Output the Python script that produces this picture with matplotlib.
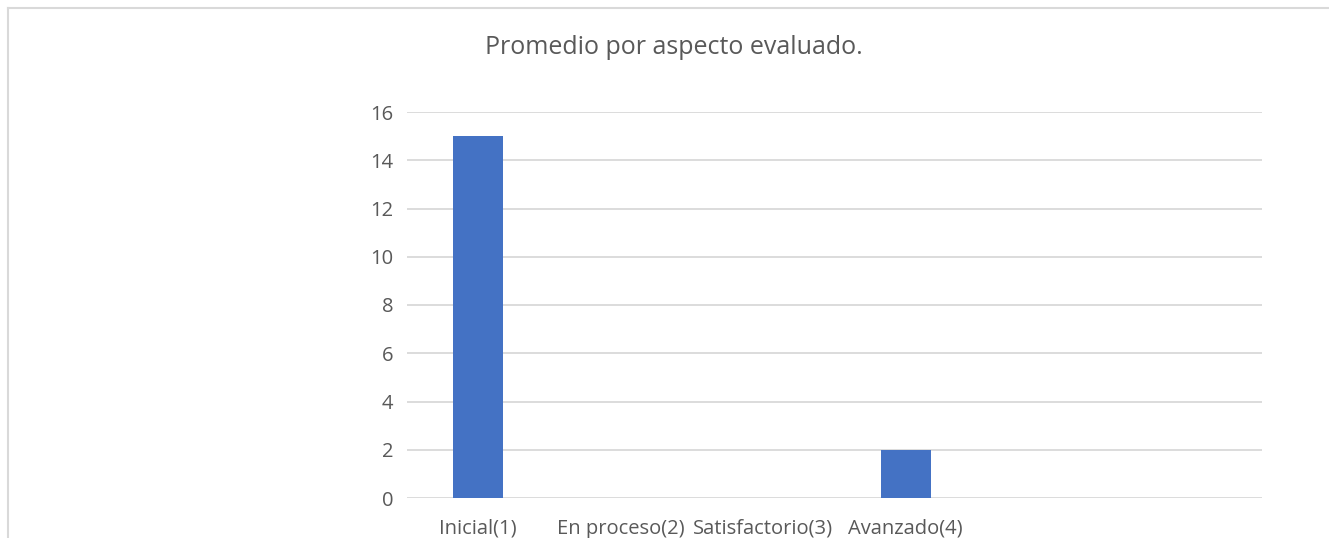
import matplotlib
matplotlib.use("Agg")
import matplotlib.pyplot as plt
from matplotlib.lines import Line2D

categorias = ["Inicial(1)", "En proceso(2)", "Satisfactorio(3)", "Avanzado(4)", "", ""]
valores = [15, 0, 0, 2, 0, 0]
titulo = "Promedio por aspecto evaluado."

plt.rcParams['font.family'] = ['Open Sans', 'DejaVu Sans']
gris_texto = '#595959'
gris_linea = '#D9D9D9'

fig = plt.figure(figsize=(13.29, 5.38), dpi=100)
ax = fig.add_axes([407 / 1329, 1 - 498 / 538, 855 / 1329, 386 / 538])

x = list(range(len(categorias)))
ax.bar(x, valores, width=0.35, color='#4472C4', zorder=3)

ax.set_xlim(-0.5, len(categorias) - 0.5)
ax.set_ylim(0, 16)
ax.set_yticks(range(0, 17, 2))
ax.set_xticks(x)
ax.set_xticklabels(categorias)
ax.grid(axis='y', color=gris_linea, linewidth=1.3, zorder=0)
for s in ax.spines.values():
    s.set_visible(False)
ax.tick_params(axis='both', length=0, colors=gris_texto, labelsize=14.5)
ax.tick_params(axis='x', pad=15)
ax.tick_params(axis='y', pad=10)

fig.text(674 / 1329, 1 - 48 / 538, titulo, ha='center', va='center',
         fontsize=18, color=gris_texto)

# borde del area del grafico
fig.add_artist(Line2D([8 / 1329, 1], [1 - 8 / 538, 1 - 8 / 538],
                      transform=fig.transFigure, color=gris_linea, linewidth=1.5))
fig.add_artist(Line2D([8 / 1329, 8 / 1329], [0, 1 - 8 / 538],
                      transform=fig.transFigure, color=gris_linea, linewidth=1.5))

fig.savefig("out.png", dpi=100)
